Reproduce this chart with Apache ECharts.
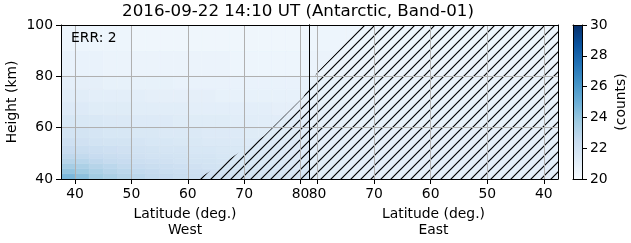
<!DOCTYPE html>
<html><head><meta charset="utf-8">
<script src="https://cdn.jsdelivr.net/npm/echarts@6/dist/echarts.min.js"></script>
<style>html,body{margin:0;padding:0;background:#fff}#c{width:631px;height:243px}</style>
</head><body><div id="c"></div>
<script>
// ---- data ----
const title = '2016-09-22 14:10 UT (Antarctic, Band-01)';
const errText = 'ERR: 2';
const latTicks = [40, 50, 60, 70, 80];
const heightTicks = [40, 60, 80, 100];
const countTicks = [20, 22, 24, 26, 28, 30];
// West side cells
const westLatEdges = [37.5, 40, 42.5, 45, 47.5, 50, 52.5, 55, 57.5, 60, 62.5, 65, 67.5, 70, 72.5, 75, 77.5, 80, 81.5];
const westHeightEdges = [40, 42, 44, 46, 48, 50, 53, 56, 60, 65, 70, 75, 80, 90, 100];
const westValues = [
  [24.6, 24.2, 23.6, 23.3, 23.0, 22.8, 22.6, 22.5, 22.3, 22.2, 22.1, 22.0, 21.9, 21.9, 21.8, 21.8, 21.7, 21.7],
  [24.0, 23.7, 23.3, 23.0, 22.8, 22.6, 22.5, 22.3, 22.2, 22.1, 22.0, 21.9, 21.8, 21.8, 21.7, 21.7, 21.6, 21.6],
  [23.5, 23.3, 23.0, 22.8, 22.6, 22.4, 22.3, 22.2, 22.1, 22.0, 21.9, 21.8, 21.7, 21.7, 21.6, 21.6, 21.5, 21.5],
  [23.0, 22.9, 22.7, 22.5, 22.4, 22.2, 22.1, 22.0, 21.9, 21.8, 21.8, 21.7, 21.6, 21.6, 21.5, 21.5, 21.5, 21.4],
  [22.7, 22.6, 22.4, 22.3, 22.2, 22.0, 21.9, 21.9, 21.8, 21.7, 21.7, 21.6, 21.5, 21.5, 21.5, 21.4, 21.4, 21.4],
  [22.4, 22.3, 22.2, 22.1, 22.0, 21.9, 21.8, 21.7, 21.7, 21.6, 21.6, 21.5, 21.5, 21.4, 21.4, 21.4, 21.3, 21.3],
  [22.1, 22.0, 21.9, 21.8, 21.8, 21.7, 21.6, 21.6, 21.5, 21.5, 21.4, 21.4, 21.4, 21.3, 21.3, 21.3, 21.3, 21.2],
  [21.8, 21.8, 21.7, 21.6, 21.6, 21.5, 21.5, 21.4, 21.4, 21.4, 21.3, 21.3, 21.3, 21.2, 21.2, 21.2, 21.2, 21.2],
  [21.6, 21.5, 21.5, 21.4, 21.4, 21.3, 21.3, 21.3, 21.2, 21.2, 21.2, 21.2, 21.1, 21.1, 21.1, 21.1, 21.1, 21.1],
  [21.3, 21.3, 21.2, 21.2, 21.2, 21.1, 21.1, 21.1, 21.1, 21.0, 21.0, 21.0, 21.0, 21.0, 21.0, 20.9, 20.9, 20.9],
  [21.1, 21.1, 21.0, 21.0, 21.0, 21.0, 20.9, 20.9, 20.9, 20.9, 20.9, 20.8, 20.8, 20.8, 20.8, 20.8, 20.8, 20.8],
  [20.9, 20.9, 20.9, 20.8, 20.8, 20.8, 20.8, 20.8, 20.7, 20.7, 20.7, 20.7, 20.7, 20.7, 20.7, 20.7, 20.7, 20.7],
  [20.7, 20.7, 20.7, 20.6, 20.6, 20.6, 20.6, 20.6, 20.6, 20.6, 20.6, 20.6, 20.5, 20.5, 20.5, 20.5, 20.5, 20.5],
  [20.5, 20.5, 20.5, 20.5, 20.5, 20.4, 20.4, 20.4, 20.4, 20.4, 20.4, 20.4, 20.4, 20.4, 20.4, 20.4, 20.4, 20.4]
];
// East side cells
const eastLatEdges = [37.5, 45, 52.5, 60, 67.5, 75, 81.5];
const eastHeightEdges = [40, 50, 60, 70, 80, 90, 100];
const eastValues = [
  [21.0, 21.0, 21.0, 21.0, 21.0, 21.1],
  [20.9, 20.9, 20.9, 20.9, 20.9, 21.0],
  [20.8, 20.8, 20.8, 20.8, 20.8, 20.9],
  [20.7, 20.7, 20.7, 20.7, 20.7, 20.8],
  [20.6, 20.6, 20.6, 20.6, 20.6, 20.6],
  [20.5, 20.5, 20.5, 20.5, 20.5, 20.5]
];
// Hatched (masked) region outline
const westHatchLat = [61.8, 67.9, 73.5, 80.5, 81.5, 81.5];
const westHatchHeight = [40, 48.6, 56.8, 71.9, 76.1, 40];
const eastHatchLat = [81.5, 80.0, 71.9, 37.5, 37.5, 81.5];
const eastHatchHeight = [76.1, 81.7, 100, 100, 40, 40];

// ---- styling ----
const BLUES = ['#f7fbff','#deebf7','#c6dbef','#9ecae1','#6baed6','#4292c6','#2171b5','#08519c','#08306b'];
const FONT = 'DejaVu Sans';
const FS = 13.9;
const LAT_MIN = 37.5, LAT_MAX = 81.5;

function cells(latE, hE, vals) {
  const out = [];
  for (let r = 0; r < vals.length; r++)
    for (let c = 0; c < vals[r].length; c++)
      out.push([latE[c], latE[c + 1], hE[r], hE[r + 1], vals[r][c]]);
  return out;
}

function renderCell(params, api) {
  const p0 = api.coord([api.value(0), api.value(3)]);
  const p1 = api.coord([api.value(1), api.value(2)]);
  const x = Math.min(p0[0], p1[0]), y = Math.min(p0[1], p1[1]);
  const c = api.visual('color');
  return { type: 'rect', shape: { x: x, y: y, width: Math.abs(p1[0] - p0[0]), height: Math.abs(p1[1] - p0[1]) },
    style: { fill: c, stroke: c, lineWidth: 0.6 } };
}

// hatch pattern
const pat = document.createElement('canvas');
const PS = 10;
pat.width = PS; pat.height = PS;
(function () {
  const g = pat.getContext('2d');
  g.strokeStyle = '#000'; g.lineWidth = 1.2;
  g.beginPath();
  g.moveTo(-2, PS + 2); g.lineTo(PS + 2, -2);
  g.moveTo(-2, 2); g.lineTo(2, -2);
  g.moveTo(PS - 2, PS + 2); g.lineTo(PS + 2, PS - 2);
  g.stroke();
})();

function hatchRenderer(lats, hts) {
  return function (params, api) {
    const pts = lats.map((la, i) => api.coord([la, hts[i]]));
    return { type: 'polygon', shape: { points: pts }, style: { fill: { image: pat, repeat: 'repeat' }, stroke: null } };
  };
}

const lineOnly = (extra) => Object.assign({
  axisLine: { show: true, onZero: false, lineStyle: { color: '#000', width: 1 } },
  axisTick: { show: false }, axisLabel: { show: false }, splitLine: { show: false }, z: 10
}, extra);

const latAxisBase = (grid, inverse, nameText) => ({
  type: 'value', gridIndex: grid, min: LAT_MIN, max: LAT_MAX, inverse: inverse, position: 'bottom', z: 10,
  axisLine: { show: true, onZero: false, lineStyle: { color: '#000', width: 1 } },
  axisTick: { show: true, length: 5, customValues: latTicks, lineStyle: { color: '#000', width: 1 } },
  axisLabel: { show: true, customValues: latTicks, margin: 8, fontFamily: FONT, fontSize: FS, color: '#000' },
  splitLine: { show: true, lineStyle: { color: '#b0b0b0', width: 1 } },
  name: nameText, nameLocation: 'middle', nameGap: 27,
  nameTextStyle: { fontFamily: FONT, fontSize: FS, color: '#000', lineHeight: 16 }
});

const chart = echarts.init(document.getElementById('c'), null, { renderer: 'canvas' });
chart.setOption({
  animation: false,
  backgroundColor: '#fff',
  grid: [
    { left: 61, top: 25, width: 248, height: 154 },
    { left: 309, top: 25, width: 249, height: 154 },
    { left: 573, top: 25, width: 9, height: 154 }
  ],
  xAxis: [
    latAxisBase(0, false, 'Latitude (deg.)\nWest'),
    lineOnly({ type: 'value', gridIndex: 0, min: LAT_MIN, max: LAT_MAX, position: 'top' }),
    latAxisBase(1, true, 'Latitude (deg.)\nEast'),
    lineOnly({ type: 'value', gridIndex: 1, min: LAT_MIN, max: LAT_MAX, inverse: true, position: 'top' }),
    lineOnly({ type: 'value', gridIndex: 2, min: 0, max: 1, position: 'bottom' }),
    lineOnly({ type: 'value', gridIndex: 2, min: 0, max: 1, position: 'top' })
  ],
  yAxis: [
    { type: 'value', gridIndex: 0, min: 40, max: 100, interval: 20, position: 'left', z: 10,
      axisLine: { show: true, onZero: false, lineStyle: { color: '#000', width: 1 } },
      axisTick: { show: true, length: 5, lineStyle: { color: '#000', width: 1 } },
      axisLabel: { margin: 8, fontFamily: FONT, fontSize: FS, color: '#000' },
      splitLine: { show: true, lineStyle: { color: '#b0b0b0', width: 1 } },
      name: 'Height (km)', nameLocation: 'middle', nameGap: 42, nameRotate: 90,
      nameTextStyle: { fontFamily: FONT, fontSize: FS, color: '#000' } },
    lineOnly({ type: 'value', gridIndex: 0, min: 40, max: 100, position: 'right' }),
    lineOnly({ type: 'value', gridIndex: 1, min: 40, max: 100, interval: 20, position: 'left',
      splitLine: { show: true, lineStyle: { color: '#b0b0b0', width: 1 } } }),
    lineOnly({ type: 'value', gridIndex: 1, min: 40, max: 100, position: 'right' }),
    lineOnly({ type: 'value', gridIndex: 2, min: 20, max: 30, position: 'left' }),
    { type: 'value', gridIndex: 2, min: 20, max: 30, interval: 2, position: 'right', z: 10,
      axisLine: { show: true, onZero: false, lineStyle: { color: '#000', width: 1 } },
      axisTick: { show: true, length: 5, lineStyle: { color: '#000', width: 1 } },
      axisLabel: { margin: 8, fontFamily: FONT, fontSize: FS, color: '#000' },
      splitLine: { show: false },
      name: '(counts)', nameLocation: 'middle', nameGap: 32, nameRotate: 90,
      nameTextStyle: { fontFamily: FONT, fontSize: FS, color: '#000' } }
  ],
  visualMap: {
    type: 'continuous', show: false, min: 20, max: 30, dimension: 4, seriesIndex: [0, 1],
    inRange: { color: BLUES }
  },
  series: [
    { type: 'custom', xAxisIndex: 0, yAxisIndex: 0, renderItem: renderCell, clip: true,
      dimensions: ['lat0', 'lat1', 'h0', 'h1', 'val'], encode: { x: [0, 1], y: [2, 3] },
      data: cells(westLatEdges, westHeightEdges, westValues) },
    { type: 'custom', xAxisIndex: 2, yAxisIndex: 2, renderItem: renderCell, clip: true,
      dimensions: ['lat0', 'lat1', 'h0', 'h1', 'val'], encode: { x: [0, 1], y: [2, 3] },
      data: cells(eastLatEdges, eastHeightEdges, eastValues) },
    { type: 'custom', xAxisIndex: 0, yAxisIndex: 0, z: 3, clip: true,
      renderItem: hatchRenderer(westHatchLat, westHatchHeight), data: [[0]] },
    { type: 'custom', xAxisIndex: 2, yAxisIndex: 2, z: 3, clip: true,
      renderItem: hatchRenderer(eastHatchLat, eastHatchHeight), data: [[0]] },
    { type: 'custom', xAxisIndex: 4, yAxisIndex: 4, data: [[0]],
      renderItem: function (params, api) {
        const a = api.coord([0, 30]), b = api.coord([1, 20]);
        const stops = BLUES.map((c, i) => ({ offset: 1 - i / (BLUES.length - 1), color: c }));
        return { type: 'rect', shape: { x: a[0], y: a[1], width: b[0] - a[0], height: b[1] - a[1] },
          style: { fill: new echarts.graphic.LinearGradient(0, 0, 0, 1, stops.reverse()) } };
      } }
  ],
  graphic: [
    { type: 'text', x: 298, y: 12, z: 20, style: { text: title, textAlign: 'center', textVerticalAlign: 'middle',
      font: '16.7px "DejaVu Sans"', fill: '#000' } },
    { type: 'text', x: 71, y: 38, z: 20, style: { text: errText, textAlign: 'left', textVerticalAlign: 'middle',
      font: FS + 'px "DejaVu Sans"', fill: '#000' } }
  ]
});
</script></body></html>
